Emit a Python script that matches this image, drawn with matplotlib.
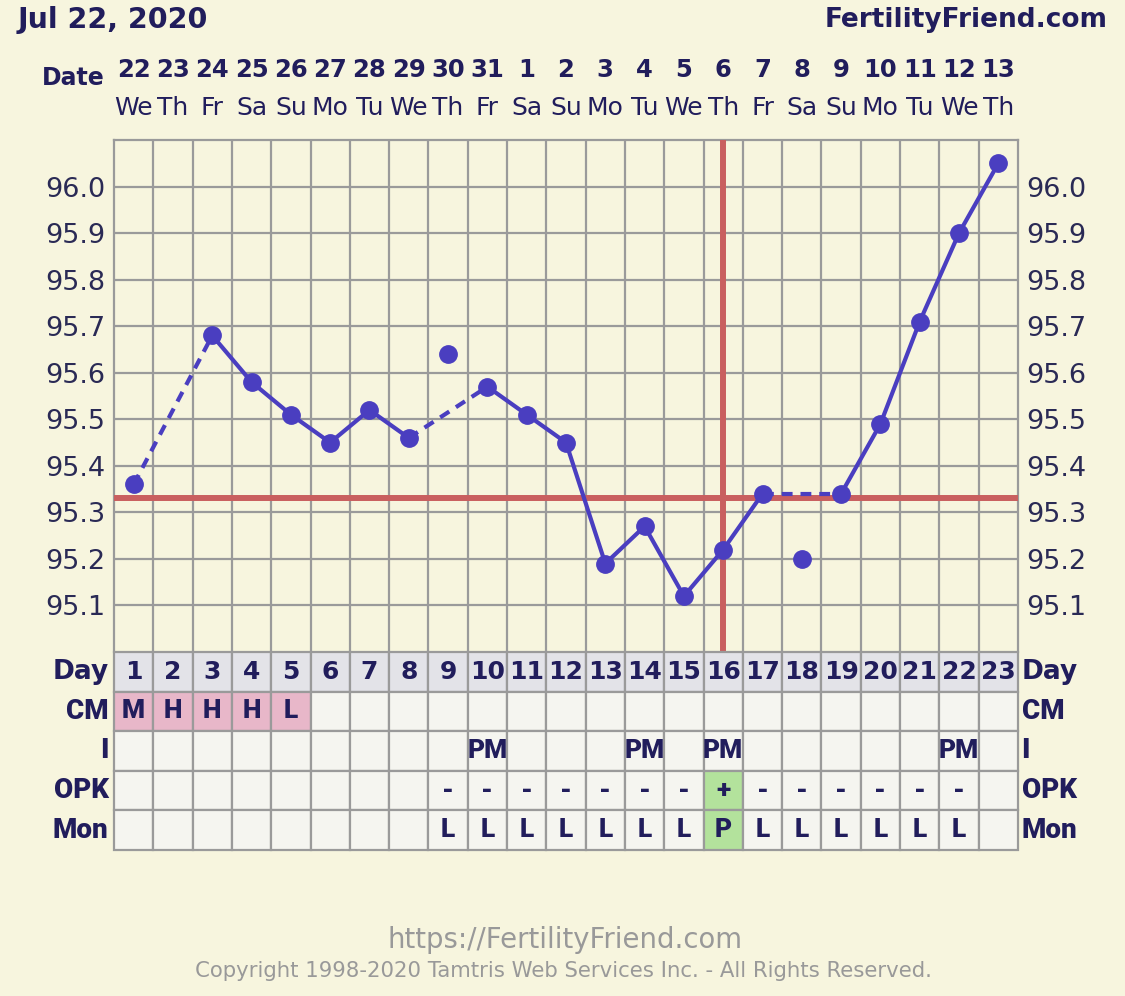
import numpy as np
import matplotlib.pyplot as plt
import matplotlib.transforms as mtransforms
from matplotlib.patches import Rectangle

# chart data
days = list(range(1, 24))
dates = [22, 23, 24, 25, 26, 27, 28, 29, 30, 31, 1, 2, 3, 4, 5, 6, 7, 8, 9, 10, 11, 12, 13]
weekdays = ['We', 'Th', 'Fr', 'Sa', 'Su', 'Mo', 'Tu', 'We', 'Th', 'Fr', 'Sa', 'Su',
            'Mo', 'Tu', 'We', 'Th', 'Fr', 'Sa', 'Su', 'Mo', 'Tu', 'We', 'Th']
temps = [95.36, None, 95.68, 95.58, 95.51, 95.45, 95.52, 95.46, 95.64, 95.57, 95.51, 95.45,
         95.19, 95.27, 95.12, 95.22, 95.34, 95.20, 95.34, 95.49, 95.71, 95.90, 96.05]
discarded = [9, 18]
coverline = 95.33
ovulation_day = 16
yticks = [95.1, 95.2, 95.3, 95.4, 95.5, 95.6, 95.7, 95.8, 95.9, 96.0]

cm = ['M', 'H', 'H', 'H', 'L'] + [''] * 18
intercourse = [''] * 9 + ['PM'] + [''] * 3 + ['PM', '', 'PM'] + [''] * 5 + ['PM', '']
opk = [''] * 8 + ['-'] * 7 + ['+'] + ['-'] * 6 + ['']
monitor = [''] * 8 + ['L'] * 7 + ['P'] + ['L'] * 6 + ['']
row_names = ['Day', 'CM', 'I', 'OPK', 'Mon']

# colours
bg = '#f7f5de'
navy = '#211d5c'
grid_c = '#9a9a9a'
blue = '#4a3ec0'
red = '#c95f5f'
pink = '#e8b7c9'
green = '#b3e29c'
cell_bg = '#f5f5f0'
day_bg = '#e3e3e8'
heavy = ['Roboto', 'DejaVu Sans']

W, H = 1125, 996
fig = plt.figure(figsize=(W / 100, H / 100), dpi=100, facecolor=bg)

x0, x1 = 114, 1018
ax = fig.add_axes([x0 / W, 1 - 652 / H, (x1 - x0) / W, (652 - 140) / H])
ax.set_facecolor(bg)
ax.set_xlim(0.5, 23.5)
ax.set_ylim(95.0, 96.1)

# grid
for t in yticks:
    ax.axhline(t, color=grid_c, lw=1.6, zorder=1)
for d in days[:-1]:
    ax.axvline(d + 0.5, color=grid_c, lw=1.6, zorder=1)
for s in ax.spines.values():
    s.set_color(grid_c)
    s.set_linewidth(1.6)
ax.spines['bottom'].set_visible(False)

ax.set_xticks([])
ax.set_yticks(yticks)
ax.set_yticklabels([f'{t:.1f}' for t in yticks])
ax.tick_params(axis='y', length=0, labelsize=19.5, labelcolor='#2a2a55',
               labelleft=True, labelright=True, pad=6)

# coverline and ovulation line
ax.axhline(coverline, color=red, lw=4.3, zorder=3)
ax.axvline(ovulation_day, color=red, lw=4.3, zorder=3)

# temperature line: solid for consecutive days, dashed across gaps
valid = [(d, t) for d, t in zip(days, temps) if t is not None and d not in discarded]
for (d0, t0), (d1, t1) in zip(valid[:-1], valid[1:]):
    if d1 - d0 == 1:
        ax.plot([d0, d1], [t0, t1], color=blue, lw=3, zorder=4, solid_capstyle='round')
    else:
        ax.plot([d0, d1], [t0, t1], color=blue, lw=3, zorder=4, dashes=(2.6, 1.9))
pts = [(d, t) for d, t in zip(days, temps) if t is not None]
ax.plot([p[0] for p in pts], [p[1] for p in pts], 'o', color=blue, ms=12.5, zorder=5)

# header
trans = mtransforms.blended_transform_factory(ax.transData, fig.transFigure)
for d, dt, wd in zip(days, dates, weekdays):
    ax.text(d, 1 - 70 / H, str(dt), transform=trans, ha='center', va='center',
            fontsize=17.5, fontweight='bold', color=navy)
    ax.text(d, 1 - 108 / H, wd, transform=trans, ha='center', va='center',
            fontsize=18, color=navy)
fig.text(105 / W, 1 - 78 / H, 'Date', ha='right', va='center', fontsize=17,
         fontweight='bold', color=navy)
fig.text(18 / W, 1 - 20 / H, 'Jul 22, 2020', ha='left', va='center', fontsize=20.5,
         fontweight='bold', color=navy)
fig.text(1108 / W, 1 - 20 / H, 'FertilityFriend.com', ha='right', va='center',
         fontsize=19, fontweight='bold', color=navy)

# table
tab = fig.add_axes([x0 / W, 1 - 850 / H, (x1 - x0) / W, (850 - 652) / H])
tab.set_xlim(0.5, 23.5)
tab.set_ylim(5, 0)
tab.axis('off')
rows = [[str(d) for d in days], cm, intercourse, opk, monitor]
for r, vals in enumerate(rows):
    for d, v in zip(days, vals):
        fc = cell_bg
        if r == 0:
            fc = day_bg
        elif r == 1 and v:
            fc = pink
        elif (r == 3 and v == '+') or (r == 4 and v == 'P'):
            fc = green
        tab.add_patch(Rectangle((d - 0.5, r), 1, 1, facecolor=fc, edgecolor=grid_c,
                                lw=1.6, clip_on=False))
        if v:
            if r == 0:
                tab.text(d, r + 0.5, v, ha='center', va='center', fontsize=18,
                         fontweight='bold', color=navy)
            else:
                tab.text(d, r + 0.5, v, ha='center', va='center', fontsize=19,
                         fontweight='black', color=navy, family=heavy)

ttrans = mtransforms.blended_transform_factory(tab.transAxes, tab.transData)
for r, name in enumerate(row_names):
    if r == 0:
        kw = dict(fontsize=19, fontweight='bold', color=navy)
    else:
        kw = dict(fontsize=20, fontweight='black', color=navy, family=heavy)
    tab.text(-0.006, r + 0.5, name, transform=ttrans, ha='right', va='center', **kw)
    tab.text(1.004, r + 0.5, name, transform=ttrans, ha='left', va='center', **kw)

# footer
fig.text(565 / W, 1 - 940 / H, 'https://FertilityFriend.com', ha='center', va='center',
         fontsize=19.8, color='#999999')
fig.text(563 / W, 1 - 971 / H,
         'Copyright 1998-2020 Tamtris Web Services Inc. - All Rights Reserved.',
         ha='center', va='center', fontsize=15.3, color='#999999')

fig.savefig('out.png', dpi=100, facecolor=bg)
